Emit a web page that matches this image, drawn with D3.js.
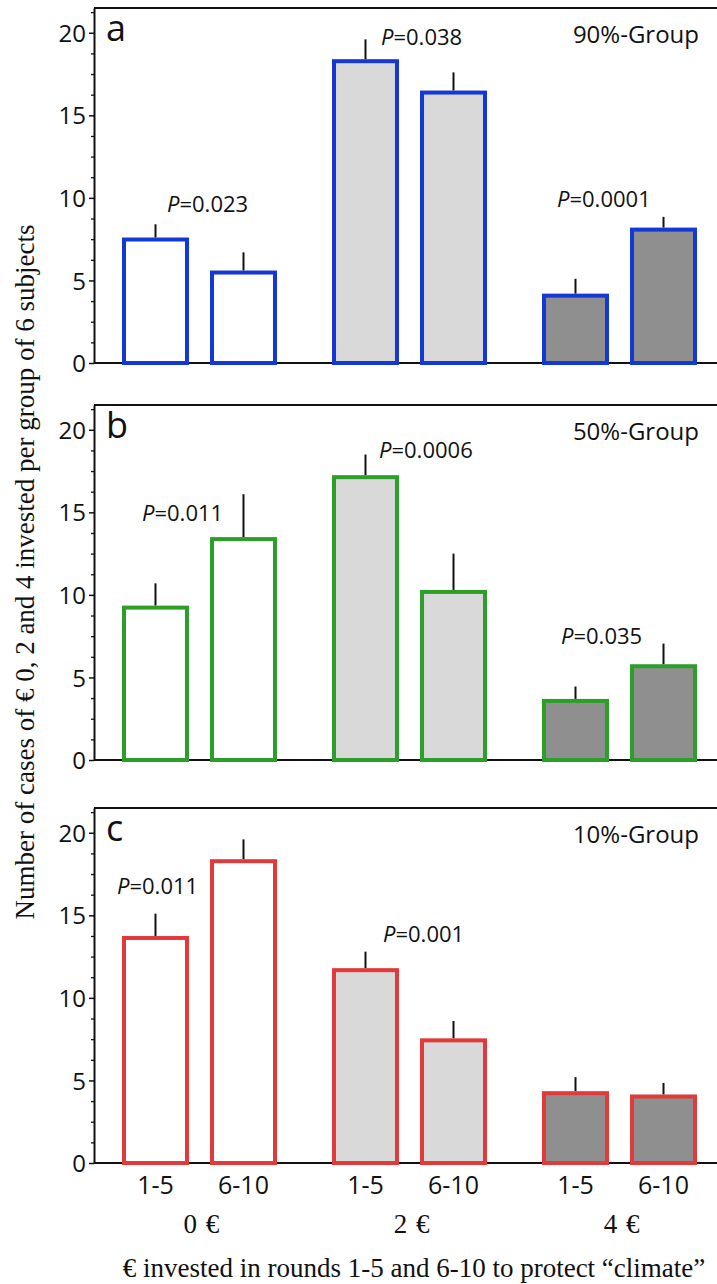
<!DOCTYPE html>
<html><head><meta charset="utf-8">
<script src="https://cdn.jsdelivr.net/npm/d3@7/dist/d3.min.js"></script>
<style>body{margin:0;background:#fff}svg{display:block;background:#fff}</style>
</head><body><svg id="chart" width="717" height="1284"></svg>
<script>
// ---------- data ----------
const amounts = ["0 €", "2 €", "4 €"];
const rounds = ["1-5", "6-10"];
const panelLetters = ["a", "b", "c"];
const groupNames = ["90%-Group", "50%-Group", "10%-Group"];
const yTicks = [0, 5, 10, 15, 20];
const yMinorTicks = [1.25, 2.5, 3.75, 6.25, 7.5, 8.75, 11.25, 12.5, 13.75, 16.25, 17.5, 18.75, 21.25];

// means (order: 0€ 1-5, 0€ 6-10, 2€ 1-5, 2€ 6-10, 4€ 1-5, 4€ 6-10)
const meansA = [7.6, 5.6, 18.4, 16.5, 4.2, 8.2];
const errTopA = [8.4, 6.7, 19.6, 17.6, 5.1, 8.85];
const meansB = [9.35, 13.5, 17.25, 10.3, 3.7, 5.8];
const errTopB = [10.7, 16.1, 18.5, 12.5, 4.45, 7.05];
const meansC = [13.75, 18.4, 11.8, 7.55, 4.35, 4.15];
const errTopC = [15.1, 19.6, 12.8, 8.6, 5.2, 4.85];

const pValuesA = ["0.023", "0.038", "0.0001"];
const pValuesB = ["0.011", "0.0006", "0.035"];
const pValuesC = ["0.011", "0.001"];
const pGroupsA = ["0 €", "2 €", "4 €"];
const pGroupsB = ["0 €", "2 €", "4 €"];
const pGroupsC = ["0 €", "2 €"];

const yTitle = "Number of cases of € 0, 2 and 4 invested per group of 6 subjects";
const xTitle = "€ invested in rounds 1-5 and 6-10 to protect “climate”";

// ---------- annotation placement (px offset from group start, data-unit baseline) ----------
const pPlaceA = [[45, 9.15], [49, 19.27], [15, 9.45]];
const pPlaceB = [[20, 14.45], [47, 18.3], [19, 7.0]];
const pPlaceC = [[-5, 16.3], [51, 13.4]];

// ---------- styles ----------
const outline = ["#1338d6", "#2b9f29", "#e2393a"];
const fills = ["#ffffff", "#d9d9d9", "#8f8f8f"];
const sans = "'Open Sans', 'Noto Sans', sans-serif";
const serif = "'Liberation Serif', 'Times New Roman', serif";

const svg = d3.select("#chart");
const axisX = 94;
const panelTops = [8, 405, 808];
const panelH = 355;

const x0 = d3.scaleBand().domain(amounts).range([axisX + 1, 724])
  .paddingInner(0.262).paddingOuter(0.1286);
const x1 = d3.scaleBand().domain(rounds).range([0, x0.bandwidth()]).paddingInner(0.239);

const panels = [
  {means: meansA, err: errTopA, pv: pValuesA, pg: pGroupsA, pp: pPlaceA},
  {means: meansB, err: errTopB, pv: pValuesB, pg: pGroupsB, pp: pPlaceB},
  {means: meansC, err: errTopC, pv: pValuesC, pg: pGroupsC, pp: pPlaceC}
];

panels.forEach((p, pi) => {
  const top = panelTops[pi];
  const y = d3.scaleLinear().domain([0, 21.5]).range([top + panelH, top]);
  const g = svg.append("g");

  // frame top line and zero line
  g.append("line").attr("x1", axisX).attr("x2", 717).attr("y1", y(21.5)).attr("y2", y(21.5))
    .attr("stroke", "#111").attr("stroke-width", 2);
  g.append("line").attr("x1", axisX).attr("x2", 717).attr("y1", y(0)).attr("y2", y(0))
    .attr("stroke", "#111").attr("stroke-width", 2);

  // axis
  const ax = g.append("g").attr("transform", `translate(${axisX},0)`)
    .call(d3.axisLeft(y).tickValues(yTicks).tickSize(5).tickSizeOuter(0).tickPadding(3));
  ax.select(".domain").attr("stroke", "#111").attr("stroke-width", 2);
  ax.selectAll(".tick line").attr("stroke", "#111").attr("stroke-width", 1.5);
  ax.selectAll(".tick text").attr("font-family", sans).attr("font-size", 24).attr("fill", "#111")
    .attr("dy", "0.36em");
  const axm = g.append("g").attr("transform", `translate(${axisX},0)`)
    .call(d3.axisLeft(y).tickValues(yMinorTicks).tickSize(3).tickSizeOuter(0).tickFormat(""));
  axm.select(".domain").remove();
  axm.selectAll(".tick line").attr("stroke", "#111").attr("stroke-width", 1.3);

  // bars
  const rows = [];
  amounts.forEach((a, ai) => rounds.forEach((r, ri) => {
    const k = ai * 2 + ri;
    rows.push({a, ai, r, v: p.means[k], e: p.err[k]});
  }));
  const sw = 4;
  // error bars
  g.selectAll(".err").data(rows).join("line")
    .attr("x1", d => x0(d.a) + x1(d.r) + x1.bandwidth() / 2)
    .attr("x2", d => x0(d.a) + x1(d.r) + x1.bandwidth() / 2)
    .attr("y1", d => y(d.v)).attr("y2", d => y(d.e))
    .attr("stroke", "#111").attr("stroke-width", 2);
  g.selectAll(".bar").data(rows).join("rect")
    .attr("x", d => x0(d.a) + x1(d.r) + sw / 2)
    .attr("width", x1.bandwidth() - sw)
    .attr("y", d => y(d.v) + sw / 2)
    .attr("height", d => y(0) - y(d.v) - sw / 2)
    .attr("fill", d => fills[d.ai])
    .attr("stroke", outline[pi]).attr("stroke-width", sw);

  // panel letter and group name
  g.append("text").attr("x", 106).attr("y", y(20) + 8).text(panelLetters[pi])
    .attr("font-family", sans).attr("font-size", 36).attr("fill", "#111");
  g.append("text").attr("x", 699).attr("y", y(20) + 10).attr("text-anchor", "end")
    .text(groupNames[pi]).attr("font-family", sans).attr("font-size", 24).attr("fill", "#111");

  // p-values
  p.pv.forEach((val, k) => {
    const t = g.append("text")
      .attr("x", x0(p.pg[k]) + p.pp[k][0]).attr("y", y(p.pp[k][1]))
      .attr("font-family", sans).attr("font-size", 22).attr("fill", "#111");
    t.append("tspan").attr("font-style", "italic").text("P");
    t.append("tspan").text("=" + val);
  });

  // x labels only under last panel
  if (pi === 2) {
    rows.forEach(d => {
      g.append("text").attr("x", x0(d.a) + x1(d.r) + x1.bandwidth() / 2).attr("y", 1194)
        .attr("text-anchor", "middle").attr("font-family", sans).attr("font-size", 25)
        .attr("fill", "#111").text(d.r);
    });
    amounts.forEach(a => {
      g.append("text").attr("x", x0(a) + x0.bandwidth() / 2 + 2).attr("y", 1233)
        .attr("text-anchor", "middle").attr("font-family", serif).attr("font-size", 27)
        .attr("word-spacing", 2).attr("fill", "#111").text(a);
    });
  }
});

// axis titles
svg.append("text").attr("transform", "translate(34,572) rotate(-90)")
  .attr("text-anchor", "middle").attr("font-family", serif).attr("font-size", 27)
  .attr("fill", "#111").text(yTitle);
svg.append("text").attr("x", 414).attr("y", 1277).attr("text-anchor", "middle")
  .attr("font-family", serif).attr("font-size", 27).attr("fill", "#111").text(xTitle);
</script>
</body></html>
